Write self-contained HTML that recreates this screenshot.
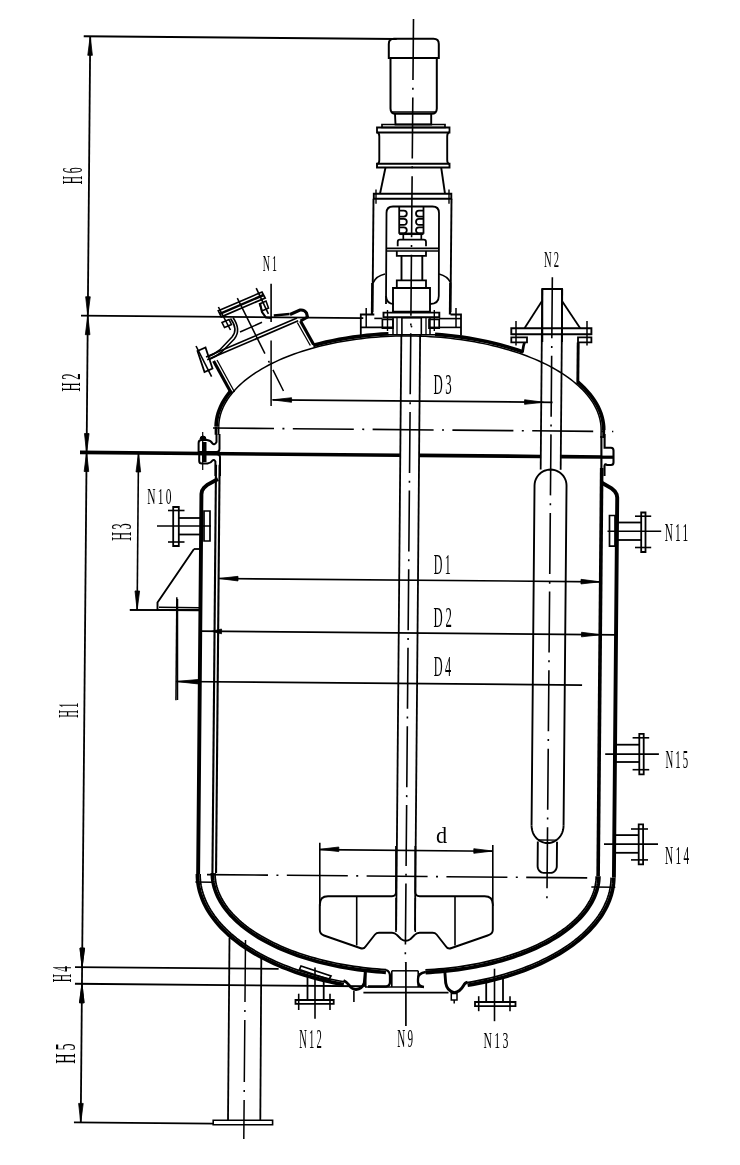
<!DOCTYPE html>
<html><head><meta charset="utf-8"><style>
html,body{margin:0;padding:0;background:#fff;overflow:hidden;width:740px;height:1165px;}
svg{display:block;}
text{font-family:"Liberation Serif",serif;fill:#000;stroke:none;}
</style></head><body>
<svg width="740" height="1165" viewBox="0 0 740 1165" stroke="#000" fill="none" stroke-linecap="butt">
<rect x="0" y="0" width="740" height="1165" fill="#fff" stroke="none"/>
<line x1="90.23" y1="36.54" x2="80.75" y2="1122.5" stroke-width="1.8"/>
<polygon points="90.23,36.34 92.37,55.36 87.77,55.32" stroke-width="0.8" fill="#000"/>
<polygon points="87.8,315.73 85.66,296.71 90.26,296.75" stroke-width="0.8" fill="#000"/>
<polygon points="87.8,315.73 89.93,334.75 85.33,334.71" stroke-width="0.8" fill="#000"/>
<polygon points="86.6,452.52 84.47,433.5 89.07,433.54" stroke-width="0.8" fill="#000"/>
<polygon points="86.6,452.52 88.74,471.54 84.14,471.5" stroke-width="0.8" fill="#000"/>
<polygon points="82.11,967.1 79.98,948.08 84.58,948.12" stroke-width="0.8" fill="#000"/>
<polygon points="81.97,983.8 84.1,1002.82 79.5,1002.78" stroke-width="0.8" fill="#000"/>
<polygon points="80.76,1122.4 78.62,1103.38 83.22,1103.42" stroke-width="0.8" fill="#000"/>
<polygon points="82.11,967.1 79.98,948.08 84.58,948.12" stroke-width="0.8" fill="#000"/>
<polygon points="81.97,983.8 84.1,1002.82 79.5,1002.78" stroke-width="0.8" fill="#000"/>
<line x1="83.73" y1="36.28" x2="396.72" y2="39.01" stroke-width="1.9"/>
<line x1="81" y1="315.67" x2="363.28" y2="318.13" stroke-width="1.8"/>
<line x1="80" y1="452.46" x2="399.89" y2="455.26" stroke-width="3.7"/>
<line x1="419.49" y1="455.43" x2="540.48" y2="456.48" stroke-width="3.7"/>
<line x1="561.08" y1="456.66" x2="602.08" y2="457.02" stroke-width="3.7"/>
<line x1="75.01" y1="967.04" x2="278.6" y2="968.82" stroke-width="1.8"/>
<line x1="74.97" y1="983.74" x2="362.45" y2="986.25" stroke-width="1.8"/>
<line x1="73.96" y1="1122.34" x2="213.25" y2="1123.55" stroke-width="1.8"/>
<line x1="138.5" y1="452.97" x2="137.13" y2="609.97" stroke-width="1.6"/>
<polygon points="138.5,452.97 140.63,471.99 136.03,471.95" stroke-width="0.8" fill="#000"/>
<polygon points="137.13,609.97 135,590.95 139.6,590.99" stroke-width="0.8" fill="#000"/>
<line x1="129.73" y1="609.9" x2="199.73" y2="610.52" stroke-width="1.6"/>
<polyline points="216.13,426.65 216.29,423.26 216.69,419.88 217.33,416.51 218.22,413.15 219.36,409.81 220.74,406.5 222.36,403.21 224.22,399.96 226.31,396.74 228.64,393.56 231.2,390.43" stroke-width="3.7" fill="none"/>
<polyline points="313.16,345.39 319.51,343.71 325.99,342.16 332.59,340.72 339.3,339.41 346.1,338.22 353,337.15 359.97,336.22 367.02,335.41 374.12,334.74 381.28,334.19 388.47,333.78" stroke-width="3.7" fill="none"/>
<polyline points="435.04,334.31 441.8,334.84 448.52,335.5 455.2,336.27 461.81,337.15 468.37,338.15 474.85,339.26 481.25,340.48 487.56,341.81 493.78,343.25 499.89,344.79 505.89,346.44 511.76,348.19 517.52,350.04 523.14,351.99" stroke-width="3.7" fill="none"/>
<polyline points="578,382.16 581.28,385.1 584.34,388.09 587.19,391.13 589.82,394.21 592.24,397.34 594.43,400.5 596.39,403.7 598.12,406.93 599.63,410.18 600.9,413.46 601.93,416.75 602.74,420.06 603.3,423.38 603.63,426.71 603.72,430.03" stroke-width="3.7" fill="none"/>
<polyline points="218.73,426.67 218.82,424.26 219.04,421.84 219.38,419.43 219.86,417.03 220.47,414.63 221.21,412.24 222.08,409.86 223.08,407.5 224.2,405.15 225.46,402.82 226.83,400.5 228.34,398.2 229.97,395.93 231.72,393.67 233.59,391.44 235.59,389.24 237.7,387.06 239.94,384.91 242.29,382.79 244.75,380.7 247.33,378.64 250.02,376.62 252.81,374.63 255.72,372.68 258.73,370.77 261.85,368.9 265.06,367.07 268.38,365.28 271.79,363.53 275.3,361.83 278.9,360.17 282.59,358.56 286.37,357 290.23,355.49 294.17,354.02 298.2,352.61 302.3,351.25 306.47,349.94 310.71,348.69 315.03,347.49 319.4,346.35 323.84,345.26 328.34,344.23 332.9,343.26 337.5,342.34 342.16,341.49 346.86,340.69 351.61,339.95 356.4,339.28 361.22,338.66 366.08,338.11 370.96,337.62 375.88,337.19 380.81,336.82 385.77,336.52 390.74,336.28 395.73,336.1 400.72,335.99 405.73,335.93 410.73,335.95 415.74,336.02 420.74,336.16 425.73,336.36 430.71,336.63 435.68,336.95 440.63,337.34 445.56,337.8 450.46,338.31 455.34,338.89 460.19,339.53 465,340.22 469.77,340.98 474.51,341.8 479.2,342.68 483.84,343.62 488.43,344.61 492.96,345.67 497.44,346.77 501.86,347.94 506.22,349.16 510.51,350.43 514.73,351.76 518.88,353.14 522.96,354.57 526.96,356.06 530.87,357.59 534.71,359.17 538.46,360.8 542.12,362.47 545.69,364.19 549.17,365.95 552.55,367.76 555.83,369.6 559.02,371.49 562.1,373.42 565.08,375.38 567.95,377.38 570.71,379.42 573.36,381.49 575.91,383.59 578.33,385.72 580.64,387.88 582.84,390.07 584.92,392.29 586.87,394.53 588.71,396.79 590.42,399.07 592.01,401.38 593.47,403.7 594.81,406.04 596.02,408.4 597.11,410.76 598.06,413.15 598.89,415.54 599.59,417.94 600.15,420.34 600.59,422.76 600.9,425.17 601.07,427.59 601.12,430.01" stroke-width="1.5" fill="none"/>
<line x1="216.13" y1="426.65" x2="216.06" y2="434.65" stroke-width="2.9"/>
<line x1="218.73" y1="426.67" x2="218.66" y2="434.67" stroke-width="1.5"/>
<line x1="603.72" y1="430.03" x2="603.65" y2="438.03" stroke-width="2.9"/>
<line x1="601.12" y1="430.01" x2="601.05" y2="438.01" stroke-width="1.5"/>
<line x1="216" y1="464.65" x2="212.44" y2="872.94" stroke-width="2.1"/>
<line x1="219.6" y1="464.68" x2="216.04" y2="872.97" stroke-width="2.1"/>
<line x1="601.69" y1="468.02" x2="598.12" y2="876.3" stroke-width="3.6"/>
<polyline points="598.92,876.31 598.84,878.7 598.65,881.1 598.34,883.49 597.92,885.87 597.38,888.25 596.73,890.62 595.97,892.98 595.09,895.32 594.1,897.66 593,899.98 591.79,902.29 590.46,904.58 589.03,906.86 587.49,909.11 585.84,911.34 584.08,913.56 582.22,915.74 580.25,917.91 578.18,920.05 576,922.16 573.73,924.24 571.35,926.3 568.87,928.32 566.3,930.31 563.64,932.27 560.88,934.19 558.02,936.08 555.08,937.93 552.05,939.75 548.93,941.52 545.72,943.26 542.44,944.95 539.07,946.61 535.62,948.22 532.09,949.79 528.49,951.31 524.82,952.78 521.07,954.21 517.26,955.6 513.38,956.93 509.44,958.22 505.43,959.45 501.37,960.64 497.25,961.77 493.07,962.86 488.84,963.89 484.57,964.87 480.24,965.79 475.87,966.66 471.46,967.47 467.01,968.23 462.53,968.94 458.01,969.59 453.46,970.18 448.88,970.71 444.27,971.19 439.65,971.61 435,971.97 430.33,972.28 425.65,972.53" stroke-width="3.7" fill="none"/>
<polyline points="596.22,876.29 596.15,878.61 595.96,880.94 595.65,883.27 595.24,885.58 594.71,887.9 594.07,890.2 593.31,892.49 592.45,894.78 591.47,897.05 590.39,899.31 589.19,901.55 587.89,903.78 586.47,905.99 584.95,908.18 583.33,910.36 581.59,912.51 579.76,914.64 577.81,916.74 575.77,918.82 573.63,920.87 571.38,922.9 569.04,924.9 566.6,926.86 564.07,928.8 561.44,930.7 558.71,932.57 555.9,934.41 553,936.21 550.01,937.98 546.93,939.7 543.77,941.39 540.53,943.04 537.21,944.65 533.81,946.21 530.33,947.74 526.78,949.22 523.16,950.65 519.47,952.04 515.71,953.39 511.89,954.68 508,955.93 504.05,957.14 500.04,958.29 495.98,959.39 491.86,960.44 487.69,961.45 483.47,962.4 479.21,963.29 474.9,964.14 470.55,964.93 466.17,965.67 461.74,966.35 457.29,966.98 452.8,967.56 448.29,968.08 443.75,968.54 439.18,968.95 434.6,969.3 430,969.6 425.38,969.84" stroke-width="1.7" fill="none"/>
<polyline points="385.91,972.28 381.2,971.98 376.5,971.61 371.82,971.19 367.16,970.71 362.52,970.17 357.91,969.57 353.32,968.92 348.77,968.21 344.25,967.44 339.77,966.62 335.33,965.74 330.93,964.8 326.58,963.82 322.27,962.77 318.01,961.68 313.81,960.53 309.66,959.33 305.57,958.08 301.54,956.78 297.58,955.43 293.67,954.03 289.84,952.59 286.08,951.09 282.38,949.55 278.76,947.97 275.22,946.34 271.76,944.67 268.38,942.95 265.08,941.2 261.86,939.4 258.73,937.57 255.69,935.69 252.74,933.78 249.89,931.84 247.12,929.86 244.46,927.84 241.88,925.8 239.41,923.72 237.04,921.62 234.77,919.48 232.6,917.32 230.54,915.14 228.58,912.92 226.73,910.69 224.99,908.43 223.35,906.16 221.83,903.86 220.42,901.55 219.11,899.22 217.93,896.88 216.85,894.52 215.89,892.15 215.04,889.77 214.31,887.38 213.69,884.98 213.18,882.58 212.8,880.17 212.53,877.76 212.37,875.35 212.34,872.94" stroke-width="3.7" fill="none"/>
<polyline points="386.2,969.6 381.55,969.3 376.92,968.95 372.3,968.53 367.71,968.07 363.13,967.54 358.58,966.96 354.06,966.32 349.57,965.63 345.12,964.88 340.7,964.08 336.32,963.23 331.98,962.32 327.69,961.36 323.44,960.34 319.25,959.28 315.1,958.16 311.01,956.99 306.98,955.78 303.01,954.51 299.09,953.2 295.25,951.84 291.47,950.43 287.75,948.98 284.11,947.48 280.55,945.94 277.05,944.35 273.64,942.73 270.3,941.06 267.05,939.35 263.88,937.6 260.79,935.82 257.8,934 254.89,932.14 252.07,930.25 249.34,928.32 246.71,926.36 244.18,924.37 241.74,922.36 239.4,920.31 237.16,918.23 235.02,916.13 232.99,914 231.06,911.85 229.23,909.68 227.52,907.48 225.9,905.27 224.4,903.04 223.01,900.79 221.72,898.52 220.55,896.24 219.49,893.95 218.54,891.65 217.7,889.33 216.98,887.01 216.37,884.68 215.87,882.34 215.49,880 215.23,877.65 215.07,875.31 215.04,872.96" stroke-width="1.7" fill="none"/>
<polyline points="217.98,478.97 207.32,484.88 204,487.75 202.07,490.73 201.44,494.03 198.13,874.01" stroke-width="3.9" fill="none"/>
<polyline points="600.96,482.31 611.51,488.4 614.78,491.33 616.66,494.35 617.23,497.65 613.91,877.64" stroke-width="3.9" fill="none"/>
<polyline points="613.81,877.64 613.72,880.52 613.5,883.41 613.14,886.28 612.65,889.15 612.03,892.02 611.27,894.87 610.39,897.71 609.37,900.53 608.23,903.34 606.95,906.13 605.55,908.91 604.01,911.66 602.36,914.39 600.57,917.09 598.66,919.77 596.63,922.42 594.48,925.04 592.2,927.63 589.81,930.18 587.3,932.71 584.67,935.19 581.93,937.64 579.07,940.04 576.11,942.41 573.03,944.73 569.85,947.01 566.57,949.25 563.18,951.43 559.69,953.57 556.1,955.66 552.42,957.7 548.64,959.69 544.77,961.62 540.81,963.5 536.77,965.32 532.64,967.08 528.43,968.79 524.15,970.43 519.78,972.02 515.35,973.55 510.84,975.01 506.27,976.41 501.63,977.74 496.93,979.01 492.17,980.22 487.36,981.35 482.5,982.42 477.58,983.42 472.62,984.36 467.62,985.22" stroke-width="3.7" fill="none"/>
<polyline points="611.11,877.62 611.02,880.43 610.8,883.25 610.45,886.06 609.96,888.86 609.35,891.65 608.61,894.44 607.73,897.21 606.73,899.97 605.6,902.71 604.34,905.44 602.96,908.14 601.44,910.83 599.81,913.49 598.05,916.14 596.16,918.75 594.16,921.34 592.03,923.89 589.79,926.42 587.42,928.92 584.95,931.38 582.35,933.8 579.65,936.19 576.83,938.54 573.9,940.85 570.87,943.12 567.73,945.34 564.49,947.53 561.14,949.66 557.7,951.75 554.16,953.79 550.52,955.78 546.79,957.72 542.98,959.6 539.07,961.44 535.08,963.21 531,964.94 526.85,966.6 522.62,968.21 518.31,969.76 513.93,971.25 509.49,972.67 504.97,974.04 500.39,975.34 495.76,976.58 491.06,977.76 486.31,978.87 481.51,979.91 476.66,980.89 471.76,981.8 466.83,982.64" stroke-width="1.7" fill="none"/>
<polyline points="343.8,984.5 338.75,983.57 333.75,982.57 328.8,981.5 323.89,980.36 319.04,979.15 314.24,977.88 309.5,976.54 304.83,975.14 300.22,973.67 295.68,972.13 291.21,970.54 286.82,968.88 282.5,967.16 278.26,965.39 274.11,963.55 270.04,961.66 266.06,959.71 262.17,957.71 258.37,955.66 254.67,953.55 251.06,951.39 247.56,949.19 244.16,946.93 240.86,944.63 237.67,942.29 234.59,939.9 231.62,937.47 228.76,935 226.02,932.49 223.4,929.95 220.89,927.37 218.51,924.75 216.24,922.11 214.1,919.43 212.08,916.73 210.19,914 208.42,911.24 206.79,908.47 205.28,905.67 203.9,902.85 202.65,900.01 201.54,897.16 200.55,894.3 199.7,891.42 198.99,888.53 198.41,885.63 197.96,882.73 197.65,879.82 197.47,876.92 197.43,874.01" stroke-width="3.7" fill="none"/>
<polyline points="344.61,981.92 339.63,981.01 334.69,980.04 329.8,978.99 324.96,977.88 320.17,976.7 315.44,975.46 310.76,974.15 306.15,972.78 301.6,971.34 297.12,969.85 292.7,968.29 288.37,966.67 284.11,964.99 279.92,963.26 275.82,961.47 271.8,959.62 267.87,957.72 264.03,955.76 260.28,953.76 256.63,951.7 253.07,949.59 249.61,947.44 246.26,945.24 243,942.99 239.85,940.7 236.81,938.37 233.88,936 231.06,933.58 228.36,931.14 225.77,928.65 223.29,926.13 220.94,923.58 218.7,921 216.59,918.38 214.59,915.74 212.73,913.08 210.98,910.39 209.37,907.68 207.88,904.94 206.52,902.19 205.29,899.42 204.19,896.64 203.22,893.84 202.38,891.03 201.67,888.21 201.1,885.38 200.65,882.55 200.34,879.71 200.17,876.87 200.13,874.03" stroke-width="1.7" fill="none"/>
<path d="M219.5,434 L219.5,449 Q219.5,452 216.5,452 L198.6,452 L198.6,443 Q198.6,440 201.5,440 L207,440 Q211,440.5 212.5,443.5 Q214.5,445.5 216.5,442 L216.5,434" stroke-width="2"/>
<path d="M220,476 L220,457 Q220,454.2 217,454.2 L199.2,454.2 L199.2,461 Q199.2,463.6 202,463.6 L207.5,463.6 Q211,463 212.5,460.5 Q214,459 215.4,461.5 L215.4,476" stroke-width="2"/>
<rect x="202" y="442" width="4.5" height="20" fill="#000" stroke="none"/>
<path d="M200,439 A3,3 0 0 1 206,439 Z" fill="#000" stroke-width="1"/>
<line x1="202.7" y1="432" x2="202.7" y2="470" stroke-width="1.2"/>
<path d="M604.6,434 L604.6,447.7 L611,447.7 Q613.5,447.7 613.5,450.5 L613.5,462.5 Q613.5,465 611,465 L607,465 Q605,463 604.5,466 L604.5,476 M601.4,436 L601.4,476" stroke-width="2.1"/>
<line x1="601" y1="457.2" x2="613.5" y2="457.2" stroke-width="3.2"/>
<line x1="413.5" y1="18.96" x2="405.26" y2="962.32" stroke-width="1.6" stroke-dasharray="61 7.8 2 7.8"/>
<line x1="405.9" y1="962" x2="405.9" y2="1026" stroke-width="1.7"/>
<line x1="213.02" y1="428.02" x2="613.31" y2="431.52" stroke-width="1.6" stroke-dasharray="61 8.4 2 8.4"/>
<line x1="207.02" y1="874.59" x2="587.41" y2="877.91" stroke-width="1.6" stroke-dasharray="61 8.4 2 8.4"/>
<line x1="195.36" y1="881.99" x2="212.36" y2="882.14" stroke-width="1.5"/>
<line x1="591.33" y1="886.94" x2="615.33" y2="887.15" stroke-width="1.5"/>
<line x1="272.57" y1="399.84" x2="552.56" y2="402.29" stroke-width="1.7"/>
<polygon points="272.57,399.84 291.59,397.71 291.55,402.31" stroke-width="0.8" fill="#000"/>
<polygon points="543.56,402.21 524.54,404.34 524.58,399.74" stroke-width="0.8" fill="#000"/>
<line x1="271.1" y1="340.5" x2="271.1" y2="406" stroke-width="1.5"/>
<line x1="219.01" y1="578.48" x2="599.99" y2="581.81" stroke-width="1.7"/>
<polygon points="219.01,578.48 238.03,576.35 237.99,580.95" stroke-width="0.8" fill="#000"/>
<polygon points="599.99,581.81 580.97,583.94 581.01,579.34" stroke-width="0.8" fill="#000"/>
<line x1="199.55" y1="631.21" x2="616.53" y2="634.85" stroke-width="1.7"/>
<polygon points="211.55,631.32 221.57,629.01 221.52,633.81" stroke-width="0.8" fill="#000"/>
<polygon points="600.53,634.71 581.51,636.85 581.55,632.25" stroke-width="0.8" fill="#000"/>
<line x1="176.11" y1="681.51" x2="582.09" y2="685.05" stroke-width="1.7"/>
<polygon points="175.91,681.51 197.93,679.5 197.89,683.9" stroke-width="0.8" fill="#000"/>
<line x1="176.84" y1="597.32" x2="175.94" y2="700.31" stroke-width="1.5"/>
<line x1="401.35" y1="334.26" x2="396.14" y2="930.24" stroke-width="1.8"/>
<line x1="420.14" y1="334.43" x2="414.94" y2="930.41" stroke-width="1.8"/>
<line x1="229.5" y1="938" x2="228" y2="1120.2" stroke-width="1.8"/>
<line x1="261.3" y1="958" x2="260.3" y2="1120.2" stroke-width="1.8"/>
<line x1="245.5" y1="940" x2="243.8" y2="1139" stroke-width="1.5" stroke-dasharray="62 8 2 8"/>
<polygon points="213.2,1120.2 272.6,1120.2 272.6,1124.7 213.2,1124.7" stroke-width="1.6" fill="none"/>
<path d="M388.8,58 L388.8,44 Q388.8,38.8 394,38.8 L433.5,38.8 Q438.8,38.8 438.8,44 L438.8,58 Z" stroke-width="2.0" fill="none"/>
<path d="M390.5,58 L390.5,108.5 Q390.5,113.8 395.8,113.8 L431.5,113.8 Q436.8,113.8 436.8,108.5 L436.8,58" stroke-width="2.0" fill="none"/>
<line x1="391" y1="112" x2="436" y2="112" stroke-width="1.3"/>
<polyline points="395,113.8 395.5,124.5 431.2,124.5 431.2,113.8" stroke-width="1.9" fill="none"/>
<polygon points="382,124.5 445,124.5 445,127.5 382,127.5" stroke-width="1.7" fill="none"/>
<path d="M377,127.5 L449.5,127.5 L449.5,132.5 L377,132.5 Z" stroke-width="1.8" fill="none"/>
<path d="M377.5,132.5 Q379.3,133 379.3,136.5 L379.3,160 Q379.3,163.3 377.5,163.8 M449,132.5 Q447.2,133 447.2,136.5 L447.2,160 Q447.2,163.3 449,163.8" stroke-width="1.9" fill="none"/>
<path d="M377,163.8 L449.5,163.8 L449.5,167.5 L377,167.5 Z" stroke-width="1.9" fill="none"/>
<polyline points="385.5,167.5 380,193.8" stroke-width="1.9" fill="none"/>
<polyline points="441.2,167.5 445,193.8" stroke-width="1.9" fill="none"/>
<path d="M373.8,193.8 L451.3,193.8 L451.3,198.8 L373.8,198.8 Z" stroke-width="1.9" fill="none"/>
<line x1="376" y1="189.5" x2="376" y2="203.8" stroke-width="1.4"/>
<line x1="449" y1="189.5" x2="449" y2="203.8" stroke-width="1.4"/>
<line x1="373.5" y1="198.8" x2="372.5" y2="312" stroke-width="1.9"/>
<line x1="451.5" y1="198.8" x2="450.5" y2="312" stroke-width="1.9"/>
<line x1="372.3" y1="283" x2="372" y2="314.5" stroke-width="2.3"/>
<line x1="450.3" y1="283" x2="450" y2="314.5" stroke-width="2.3"/>
<path d="M373,283 Q376,276 385,274 M450.8,283 Q447.5,276 439,274" stroke-width="1.7" fill="none"/>
<path d="M386,304 L386.5,213 Q386.5,206.5 393,206.5 L432.5,206.5 Q439,206.5 439,213 L438.8,296 Q438.8,304 430,304" stroke-width="1.8" fill="none"/>
<path d="M386,296 Q386.5,304 394,304" stroke-width="1.8" fill="none"/>
<line x1="399.2" y1="207" x2="399.2" y2="233.8" stroke-width="1.8"/>
<line x1="423.5" y1="207" x2="423.5" y2="233.8" stroke-width="1.8"/>
<path d="M399.8,210.6 L403.8,210.6 A3,3 0 0 1 403.8,216.6 L399.8,216.6" stroke-width="1.8" fill="none"/>
<path d="M423,210.6 L419,210.6 A3,3 0 0 0 419,216.6 L423,216.6" stroke-width="1.8" fill="none"/>
<path d="M399.8,218.95 L403.8,218.95 A3,3 0 0 1 403.8,224.95 L399.8,224.95" stroke-width="1.8" fill="none"/>
<path d="M423,218.95 L419,218.95 A3,3 0 0 0 419,224.95 L423,224.95" stroke-width="1.8" fill="none"/>
<path d="M399.8,227.29999999999998 L403.8,227.29999999999998 A3,3 0 0 1 403.8,233.29999999999998 L399.8,233.29999999999998" stroke-width="1.8" fill="none"/>
<path d="M423,227.29999999999998 L419,227.29999999999998 A3,3 0 0 0 419,233.29999999999998 L423,233.29999999999998" stroke-width="1.8" fill="none"/>
<line x1="399.2" y1="233.8" x2="423.5" y2="233.8" stroke-width="2.5"/>
<path d="M403.3,233.8 L403.3,240 M421.3,233.8 L421.3,240" stroke-width="1.7" fill="none"/>
<path d="M397.7,246.3 L397.7,242 Q397.7,239.7 400,239.7 L423.7,239.7 Q426,239.7 426,242 L426,246.3" stroke-width="1.8" fill="none"/>
<line x1="386" y1="248.3" x2="439" y2="248.3" stroke-width="1.8"/>
<line x1="386" y1="251" x2="439" y2="251" stroke-width="1.5"/>
<path d="M396.8,251 L396.8,255.8 L426,255.8 L426,251" stroke-width="1.8" fill="none"/>
<line x1="401.5" y1="255.8" x2="401.5" y2="280.4" stroke-width="1.9"/>
<line x1="422.3" y1="255.8" x2="422.3" y2="280.4" stroke-width="1.9"/>
<path d="M396.8,280.4 L426,280.4 L426,288 L396.8,288 Z" stroke-width="1.8" fill="none"/>
<path d="M393,288 L393,311.6 L430,311.6 L430,288 Z" stroke-width="1.9" fill="none"/>
<path d="M383.5,312.6 L439.3,312.6 L439.3,317.3 L383.5,317.3 Z" stroke-width="1.9" fill="none"/>
<path d="M360.8,335.5 L360.8,314.5 L374.3,314.5 M461,335.5 L461,314.5 L450.5,314.5" stroke-width="1.8" fill="none"/>
<line x1="360.8" y1="327.4" x2="393" y2="327.4" stroke-width="1.6"/>
<line x1="430" y1="327.4" x2="461" y2="327.4" stroke-width="1.6"/>
<line x1="374.3" y1="318.4" x2="382.4" y2="318.4" stroke-width="1.6"/>
<line x1="439.2" y1="318.6" x2="461" y2="318.6" stroke-width="1.6"/>
<line x1="366.2" y1="308" x2="366.2" y2="328" stroke-width="1.5"/>
<line x1="456" y1="308" x2="456" y2="328" stroke-width="1.5"/>
<path d="M382.4,319.3 L393,319.3 L393,328.2 L382.4,328.2 Z" stroke-width="1.7" fill="none"/>
<path d="M429,319.3 L439.2,319.3 L439.2,328.2 L429,328.2 Z" stroke-width="1.7" fill="none"/>
<line x1="387.5" y1="310" x2="387.5" y2="331" stroke-width="1.4"/>
<line x1="434.3" y1="310" x2="434.3" y2="331" stroke-width="1.4"/>
<path d="M401.9,335.5 L401.9,317.7 L421.3,317.7 L421.3,335.5" stroke-width="1.6" fill="none"/>
<circle cx="411.5" cy="326.5" r="0.9" fill="#000" stroke="none"/>
<line x1="393" y1="317.3" x2="393" y2="335" stroke-width="1.5"/>
<line x1="397" y1="317.3" x2="397" y2="335" stroke-width="1.3"/>
<line x1="426" y1="317.3" x2="426" y2="335" stroke-width="1.3"/>
<line x1="430" y1="317.3" x2="430" y2="335" stroke-width="1.5"/>
<line x1="388" y1="334.7" x2="435" y2="334.7" stroke-width="1.5"/>
<path d="M542.3,342 L542.3,289 L562,289 L562,342" stroke-width="1.9" fill="none"/>
<line x1="542" y1="301" x2="524.5" y2="328.2" stroke-width="1.8"/>
<line x1="562" y1="301" x2="580.2" y2="328.2" stroke-width="1.8"/>
<path d="M511.3,328.2 L591.4,328.2 L591.4,334.3 L511.3,334.3 Z" stroke-width="1.9" fill="none"/>
<path d="M511.3,337.3 L527,337.3 L527,342.4 L511.3,342.4 Z M578,337.3 L591.4,337.3 L591.4,342.4 L578,342.4 Z" stroke-width="1.8" fill="none"/>
<line x1="516" y1="321" x2="516" y2="345.4" stroke-width="1.5"/>
<line x1="587" y1="321" x2="587" y2="345.4" stroke-width="1.5"/>
<polyline points="524.5,342.4 523.5,346 522.4,352.5" stroke-width="2.7" fill="none"/>
<line x1="578.2" y1="342.4" x2="577.8" y2="384" stroke-width="2.9"/>
<line x1="542.25" y1="288.89" x2="540.67" y2="469.49" stroke-width="1.8"/>
<line x1="562.25" y1="289.07" x2="560.67" y2="469.66" stroke-width="1.8"/>
<polyline points="531.56,825.42 534.53,485.43 534.53,485.43 534.69,483.35 535.11,481.3 535.8,479.32 536.74,477.45 537.92,475.72 539.32,474.16 540.9,472.79 542.65,471.65 544.54,470.74 546.52,470.08 548.58,469.69 550.67,469.57 552.76,469.73 554.81,470.15 556.78,470.84 558.65,471.79 560.38,472.96 561.94,474.36 563.31,475.94 564.46,477.69 565.37,479.58 566.02,481.57 566.41,483.62 566.53,485.71 563.56,825.7" stroke-width="1.9" fill="none"/>
<polyline points="563.56,825.7 563.46,827.53 563.18,829.33 562.73,831.1 562.12,832.8 561.34,834.43 560.42,835.96 559.35,837.37 558.16,838.66 556.84,839.8 555.43,840.78 553.93,841.6 552.36,842.24 550.74,842.7 549.08,842.98 547.41,843.06 545.74,842.95 544.09,842.65 542.47,842.16 540.92,841.49 539.43,840.64 538.04,839.63 536.74,838.47 535.57,837.16 534.53,835.73 533.63,834.19 532.89,832.55 532.3,830.83 531.88,829.06 531.64,827.25 531.56,825.42" stroke-width="1.9" fill="none"/>
<polyline points="537.82,841.47 537.61,865.97 537.61,865.97 537.72,867.3 538.06,868.58 538.62,869.76 539.38,870.8 540.32,871.65 541.38,872.29 542.54,872.69 543.75,872.83 550.55,872.89 551.76,872.77 552.93,872.39 554.01,871.77 554.95,870.93 555.73,869.91 556.32,868.74 556.68,867.47 556.81,866.14 557.02,841.64" stroke-width="1.9" fill="none"/>
<line x1="552.35" y1="277.18" x2="546.91" y2="900.56" stroke-width="1.6" stroke-dasharray="61 7.8 2 7.8"/>
<line x1="538.44" y1="839.98" x2="556.44" y2="840.14" stroke-width="1.3"/>
<path d="M396,880 L396,892 Q396,896.2 392,896.2 L328,896.2 Q319.8,896.2 319.8,904.5 L319.8,930 Q319.8,934 324,935.5 L360,948 Q364,949.5 366,946 L375,934.5 Q376.5,932.7 379,932.7 L392,932.7 Q395,932.7 397,935 L401,939 Q405.8,942.5 410.6,939 L414.6,935 Q416.6,932.7 419.6,932.7 L432.6,932.7 Q435.1,932.7 436.6,934.5 L445.6,946 Q447.6,949.5 451.6,948 L487.6,935.5 Q492.8,934 492.8,930 L492.8,904.5 Q492.8,896.2 484.6,896.2 L419.6,896.2 Q415.3,896.2 415.3,892 L415.3,880" stroke-width="1.9" fill="none"/>
<line x1="356.7" y1="896.2" x2="356.7" y2="945.5" stroke-width="1.6"/>
<line x1="455" y1="896.2" x2="455" y2="945.5" stroke-width="1.6"/>
<line x1="396" y1="898" x2="396" y2="932" stroke-width="1.5"/>
<line x1="415.3" y1="898" x2="415.3" y2="932" stroke-width="1.5"/>
<line x1="396" y1="846" x2="396" y2="880" stroke-width="1.8"/>
<line x1="415.3" y1="846" x2="415.3" y2="880" stroke-width="1.8"/>
<line x1="319.8" y1="842.8" x2="319.8" y2="906" stroke-width="1.6"/>
<line x1="492.8" y1="845" x2="492.8" y2="906" stroke-width="1.6"/>
<line x1="319.8" y1="849.6" x2="492.8" y2="851.2" stroke-width="1.6"/>
<polygon points="319.8,849.3 338.8,847 338.8,851.6" stroke-width="0.8" fill="#000"/>
<polygon points="492.8,851 473.8,853.3 473.8,848.7" stroke-width="0.8" fill="#000"/>
<path d="M641.2,512.5 L645.5,512.5 L645.5,552 L641.2,552 Z" stroke-width="1.8" fill="none"/>
<line x1="635" y1="516.2" x2="651.2" y2="516.2" stroke-width="1.6"/>
<line x1="635" y1="547.5" x2="651.2" y2="547.5" stroke-width="1.6"/>
<line x1="618" y1="522.5" x2="641.2" y2="522.5" stroke-width="1.8"/>
<line x1="618" y1="540" x2="641.2" y2="540" stroke-width="1.8"/>
<line x1="607.5" y1="531.2" x2="661.2" y2="531.2" stroke-width="1.6"/>
<path d="M639.3,733.8 L643.7,733.8 L643.7,774.3 L639.3,774.3 Z" stroke-width="1.8" fill="none"/>
<line x1="632.6" y1="737.8" x2="649.2" y2="737.8" stroke-width="1.6"/>
<line x1="632.6" y1="769.7" x2="649.2" y2="769.7" stroke-width="1.6"/>
<line x1="616" y1="744.7" x2="639.3" y2="744.7" stroke-width="1.8"/>
<line x1="616" y1="762" x2="639.3" y2="762" stroke-width="1.8"/>
<line x1="605.2" y1="754.1" x2="658.9" y2="754.1" stroke-width="1.6"/>
<path d="M638.7,824.4 L643.1,824.4 L643.1,864.3 L638.7,864.3 Z" stroke-width="1.8" fill="none"/>
<line x1="631" y1="829" x2="648" y2="829" stroke-width="1.6"/>
<line x1="631" y1="859.9" x2="648" y2="859.9" stroke-width="1.6"/>
<line x1="616" y1="835.1" x2="638.7" y2="835.1" stroke-width="1.8"/>
<line x1="616" y1="852.8" x2="638.7" y2="852.8" stroke-width="1.8"/>
<line x1="604" y1="844.1" x2="658" y2="844.1" stroke-width="1.6"/>
<path d="M173.2,507 L178.8,507 L178.8,546 L173.2,546 Z" stroke-width="1.8" fill="none"/>
<line x1="168" y1="510.5" x2="184.5" y2="510.5" stroke-width="1.6"/>
<line x1="168" y1="542" x2="184.5" y2="542" stroke-width="1.6"/>
<line x1="178.8" y1="518" x2="200" y2="518" stroke-width="1.8"/>
<line x1="178.8" y1="534.5" x2="200" y2="534.5" stroke-width="1.8"/>
<line x1="157" y1="526" x2="211" y2="526" stroke-width="1.6"/>
<path d="M204,511 L210,511 L210,541 L204,541 Z" stroke-width="1.7" fill="none"/>
<path d="M609.5,515.5 L615,515.5 L615,546.2 L609.5,546.2 Z" stroke-width="1.7" fill="none"/>
<polyline points="194,549 199,549" stroke-width="1.8" fill="none"/>
<polyline points="194,549 157.5,602.5 157.5,610 199,610" stroke-width="1.9" fill="none"/>
<line x1="130" y1="610" x2="200" y2="610" stroke-width="1.6"/>
<line x1="159" y1="607.3" x2="199" y2="607.8" stroke-width="1.4"/>
<line x1="177.5" y1="599" x2="177.5" y2="700" stroke-width="1.5"/>
<g style="filter:grayscale(1)"><text transform="translate(81.52,184.15) rotate(-90) scale(0.406,1)" font-size="28.81" letter-spacing="5.76">H6</text></g>
<g style="filter:grayscale(1)"><text transform="translate(80,391.38) rotate(-90) scale(0.458,1)" font-size="27.69" letter-spacing="5.54">H2</text></g>
<g style="filter:grayscale(1)"><text transform="translate(77.7,717.82) rotate(-90) scale(0.365,1)" font-size="29.24" letter-spacing="5.85">H1</text></g>
<g style="filter:grayscale(1)"><text transform="translate(130.91,540.77) rotate(-90) scale(0.420,1)" font-size="29.09" letter-spacing="5.82">H3</text></g>
<g style="filter:grayscale(1)"><text transform="translate(70.5,982.35) rotate(-90) scale(0.419,1)" font-size="27.69" letter-spacing="5.54">H4</text></g>
<g style="filter:grayscale(1)"><text transform="translate(74.81,1063.63) rotate(-90) scale(0.489,1)" font-size="29.24" letter-spacing="5.85">H5</text></g>
<g style="filter:grayscale(1)"><text transform="translate(433.52,393.9) scale(0.434,1)" font-size="29.55" letter-spacing="5.91">D3</text></g>
<g style="filter:grayscale(1)"><text transform="translate(433.74,574.1) scale(0.411,1)" font-size="29.24" letter-spacing="5.85">D1</text></g>
<g style="filter:grayscale(1)"><text transform="translate(433.62,626.5) scale(0.432,1)" font-size="29.54" letter-spacing="5.91">D2</text></g>
<g style="filter:grayscale(1)"><text transform="translate(433.63,676.3) scale(0.424,1)" font-size="29.08" letter-spacing="5.82">D4</text></g>
<g style="filter:grayscale(1)"><text transform="translate(436.01,842.76) scale(0.926,1)" font-size="24.00" letter-spacing="4.80">d</text></g>
<g style="filter:grayscale(1)"><text transform="translate(147.16,503.56) scale(0.520,1)" font-size="22.06" letter-spacing="4.41">N10</text></g>
<g style="filter:grayscale(1)"><text transform="translate(664.66,541.2) scale(0.461,1)" font-size="24.55" letter-spacing="4.91">N11</text></g>
<g style="filter:grayscale(1)"><text transform="translate(665.38,767.84) scale(0.418,1)" font-size="25.82" letter-spacing="5.16">N15</text></g>
<g style="filter:grayscale(1)"><text transform="translate(665.06,863.5) scale(0.444,1)" font-size="25.45" letter-spacing="5.09">N14</text></g>
<g style="filter:grayscale(1)"><text transform="translate(299.18,1047.5) scale(0.401,1)" font-size="26.52" letter-spacing="5.30">N12</text></g>
<g style="filter:grayscale(1)"><text transform="translate(397.17,1047.25) scale(0.444,1)" font-size="25.00" letter-spacing="5.00">N9</text></g>
<g style="filter:grayscale(1)"><text transform="translate(483.45,1047.78) scale(0.527,1)" font-size="22.39" letter-spacing="4.48">N13</text></g>
<g style="filter:grayscale(1)"><text transform="translate(262.8,270.5) scale(0.415,1)" font-size="23.94" letter-spacing="4.79">N1</text></g>
<g style="filter:grayscale(1)"><text transform="translate(543.98,267.4) scale(0.465,1)" font-size="22.77" letter-spacing="4.55">N2</text></g>
<line x1="206" y1="357" x2="297" y2="318" stroke-width="1.7"/>
<line x1="207.2" y1="359.8" x2="298.2" y2="320.8" stroke-width="1.7"/>
<path d="M290,314.5 L300,310 Q304.5,309.5 306.5,313 L307.5,317 L300.5,321" stroke-width="3.1" fill="none"/>
<line x1="300.5" y1="321" x2="313.6" y2="344.5" stroke-width="3.1"/>
<line x1="297.3" y1="322.5" x2="310.3" y2="345.5" stroke-width="1.3"/>
<line x1="213.6" y1="361" x2="231.5" y2="393.5" stroke-width="3.1"/>
<line x1="217" y1="360" x2="234.5" y2="392" stroke-width="1.3"/>
<path d="M197.5,351 L205.5,347.5 L212.5,368.5 L204.5,372 Z" stroke-width="1.8" fill="none"/>
<line x1="196" y1="346" x2="211.6" y2="376.6" stroke-width="1.6"/>
<path d="M207.6,357 Q214,354.5 219.7,350 L232,337 Q238.5,329.5 230.5,318.5" stroke-width="1.6" fill="none"/>
<path d="M209.2,359.5 Q216,356.5 221.7,352 L234.3,339 Q241.5,330 233,317.5" stroke-width="1.6" fill="none"/>
<path d="M218.3,310.8 L262,292 L265.2,298 L221.3,316.8 Z" stroke-width="1.7" fill="none"/>
<line x1="219.8" y1="313.8" x2="263.6" y2="295" stroke-width="2.5"/>
<line x1="218.4" y1="307" x2="230.5" y2="330" stroke-width="1.6"/>
<line x1="256.2" y1="288.1" x2="268.4" y2="313.8" stroke-width="1.6"/>
<path d="M222,322.5 L229,319.5 L231.5,324.5 L224.5,327.5 Z" stroke-width="1.6" fill="none"/>
<path d="M259.5,304 L266,301 L268.5,308 L262,311 Z" stroke-width="1.6" fill="none"/>
<path d="M260,303 L262,312 L266,317.5 L271,318" stroke-width="2.1" fill="none"/>
<line x1="273.8" y1="315.5" x2="289.5" y2="314" stroke-width="2.7"/>
<line x1="237.3" y1="298.2" x2="283.5" y2="391" stroke-width="1.5" stroke-dasharray="62 8 2 8"/>
<line x1="240" y1="332" x2="262" y2="322.3" stroke-width="1.5"/>
<line x1="271.1" y1="283.7" x2="271.1" y2="322" stroke-width="1.6"/>
<path d="M365.3,972 L365.3,986.9" stroke-width="2.5" fill="none"/>
<path d="M386,970 Q390,971.5 390,976 L390,982 Q390,986 386,986.5 L368,986.5" stroke-width="2.3" fill="none"/>
<path d="M425.8,972 Q418,973 418,979 L418,982 Q418.5,986.5 424,987" stroke-width="2.3" fill="none"/>
<line x1="391.8" y1="970.8" x2="418.2" y2="970.8" stroke-width="1.5"/>
<line x1="391.8" y1="970.8" x2="391.8" y2="987" stroke-width="1.6"/>
<line x1="418.2" y1="970.8" x2="418.2" y2="987" stroke-width="1.6"/>
<line x1="365" y1="987" x2="422" y2="987" stroke-width="1.7"/>
<line x1="363.4" y1="992.6" x2="448.5" y2="992.6" stroke-width="1.7"/>
<line x1="425.8" y1="972" x2="444.7" y2="970" stroke-width="2.5"/>
<path d="M343.5,980.5 Q347,982 349,985 Q352,989.5 356,989.5 Q362,989 364.3,983 L365.3,972" stroke-width="2.9" fill="none"/>
<line x1="353.9" y1="990.7" x2="353.9" y2="1002" stroke-width="1.6"/>
<path d="M444.7,970 L445.7,983 Q447,991 454.2,992.6 Q460,992 463.6,985.5 Q465,982.5 467.4,982.2" stroke-width="2.9" fill="none"/>
<path d="M451.3,993.5 L457,993.5 L457,1000.1 L451.3,1000.1 Z" stroke-width="1.5" fill="none"/>
<line x1="454.2" y1="1000" x2="454.2" y2="1003.5" stroke-width="1.5"/>
<path d="M301,966 L331,976 L329,979.5 L299.5,969.5 Z" stroke-width="1.7" fill="none"/>
<line x1="307.5" y1="975" x2="307.5" y2="1000" stroke-width="1.8"/>
<line x1="323.7" y1="977" x2="323.7" y2="1000" stroke-width="1.8"/>
<path d="M295.5,1000 L333.7,1000 L333.7,1003.8 L295.5,1003.8 Z" stroke-width="1.8" fill="none"/>
<line x1="298.7" y1="993.7" x2="298.7" y2="1010" stroke-width="1.6"/>
<line x1="330" y1="993.7" x2="330" y2="1010" stroke-width="1.6"/>
<line x1="315" y1="967.5" x2="315" y2="1018.7" stroke-width="1.6"/>
<line x1="486.2" y1="979" x2="486.2" y2="1002" stroke-width="1.8"/>
<line x1="503" y1="976.5" x2="503" y2="1002" stroke-width="1.8"/>
<path d="M475,1002 L515.5,1002 L515.5,1006.2 L475,1006.2 Z" stroke-width="1.8" fill="none"/>
<line x1="478.7" y1="996.2" x2="478.7" y2="1011.2" stroke-width="1.6"/>
<line x1="510" y1="996.2" x2="510" y2="1011.2" stroke-width="1.6"/>
<line x1="494.5" y1="968.7" x2="494.5" y2="1021.2" stroke-width="1.6"/>
</svg></body></html>
